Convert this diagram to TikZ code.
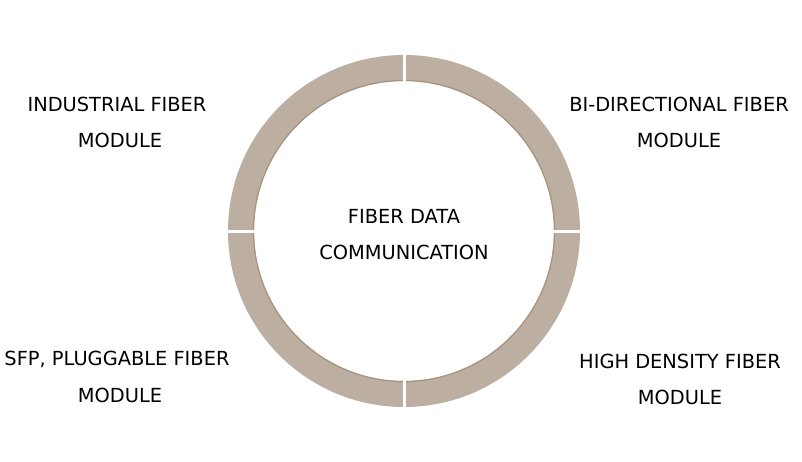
\documentclass[tikz,border=0pt]{standalone}
\usepackage{fontspec}
\setmainfont{DejaVu Sans}
\begin{document}
\begin{tikzpicture}[x=1pt,y=-1pt,
  label/.style={font=\fontsize{19.4}{19.4}\selectfont, text=black, inner sep=0pt, anchor=center},
  gapline/.style={draw=white, line width=3pt}]
\definecolor{ringfill}{HTML}{BCAFA2}
\definecolor{ringedge}{HTML}{A8927E}
\useasboundingbox (0,0) rectangle (802,462);
\fill[white] (0,0) rectangle (802,462);
% the ring
\coordinate (c) at (404,231);
\fill[ringfill, even odd rule] (c) circle[radius=176] (c) circle[radius=150];
\draw[ringedge, line width=1.2pt] (c) circle[radius=150.5];
% white breaks at the four quarters
\draw[gapline] (404,52) -- (404,84);
\draw[gapline] (404,378) -- (404,410);
\draw[gapline] (225,231) -- (257,231);
\draw[gapline] (551,231) -- (583,231);
% texts
\node[label] (centre1) at (404,216) {FIBER DATA};
\node[label] (centre2) at (404,252) {COMMUNICATION};
\node[label] (tl1) at (117,104) {INDUSTRIAL FIBER};
\node[label] (tl2) at (120,140) {MODULE};
\node[label] (tr1) at (679,104) {BI-DIRECTIONAL FIBER};
\node[label] (tr2) at (679,140) {MODULE};
\node[label] (bl1) at (117,359) {SFP, PLUGGABLE FIBER};
\node[label] (bl2) at (120,395) {MODULE};
\node[label] (br1) at (680,361) {HIGH DENSITY FIBER};
\node[label] (br2) at (680,397) {MODULE};
\end{tikzpicture}
\end{document}
